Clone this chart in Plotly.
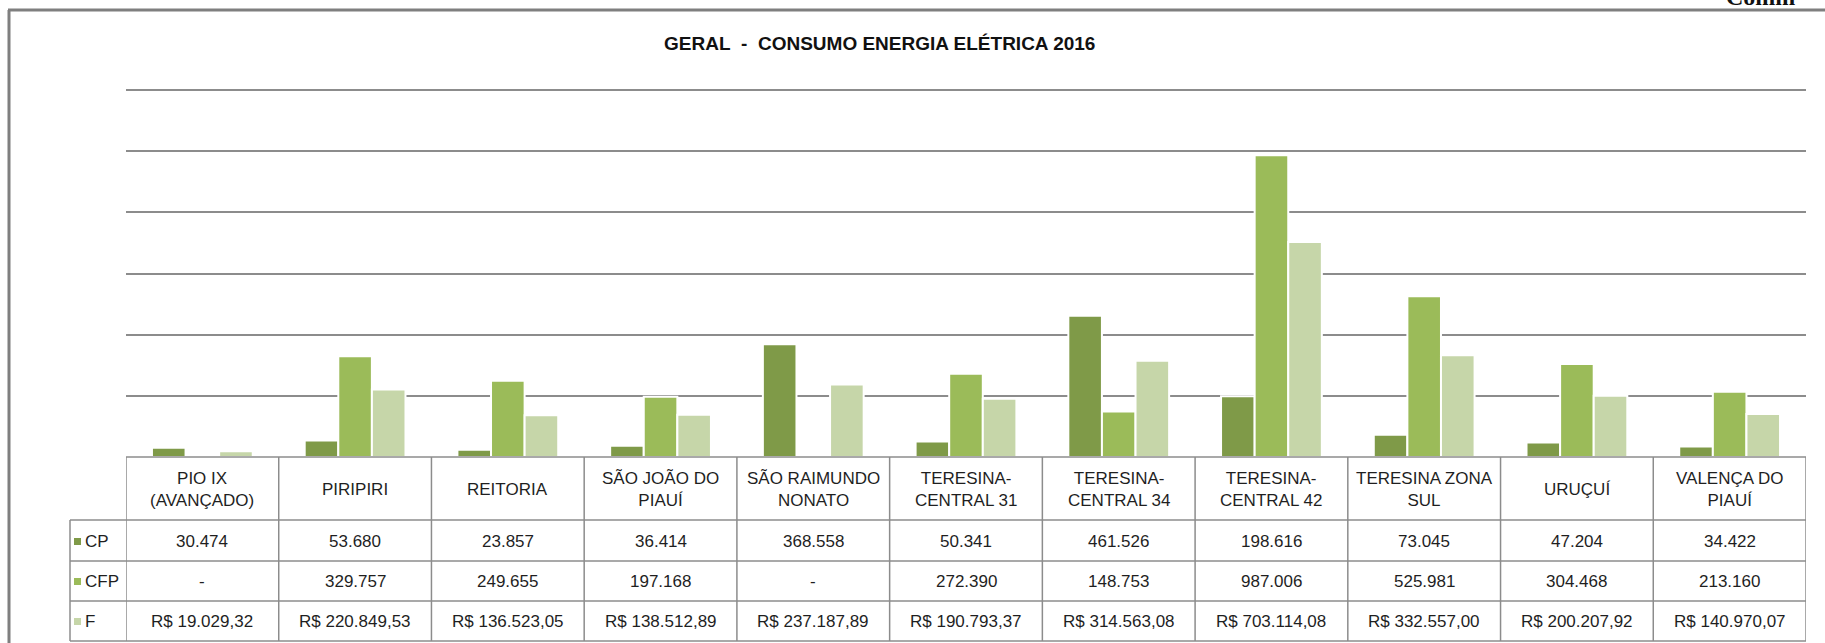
import plotly.graph_objects as go

# ---------------- data ----------------
categories = ["PIO IX (AVANÇADO)", "PIRIPIRI", "REITORIA", "SÃO JOÃO DO PIAUÍ",
              "SÃO RAIMUNDO NONATO", "TERESINA-CENTRAL 31", "TERESINA-CENTRAL 34",
              "TERESINA-CENTRAL 42", "TERESINA ZONA SUL", "URUÇUÍ", "VALENÇA DO PIAUÍ"]
header_labels = ["PIO IX<br>(AVANÇADO)", "PIRIPIRI", "REITORIA", "SÃO JOÃO DO<br>PIAUÍ",
                 "SÃO RAIMUNDO<br>NONATO", "TERESINA-<br>CENTRAL 31", "TERESINA-<br>CENTRAL 34",
                 "TERESINA-<br>CENTRAL 42", "TERESINA ZONA<br>SUL", "URUÇUÍ", "VALENÇA DO<br>PIAUÍ"]
cp = [30474, 53680, 23857, 36414, 368558, 50341, 461526, 198616, 73045, 47204, 34422]
cfp = [None, 329757, 249655, 197168, None, 272390, 148753, 987006, 525981, 304468, 213160]
f = [19029.32, 220849.53, 136523.05, 138512.89, 237187.89, 190793.37, 314563.08,
     703114.08, 332557.00, 200207.92, 140970.07]
series_names = ["CP", "CFP", "F"]
title_text = "GERAL\u00a0\u00a0-\u00a0\u00a0CONSUMO ENERGIA ELÉTRICA 2016"
corner_text = "Comm"
y_top = 1200000
y_step = 200000

colors = ["#7F9A48", "#9BBB59", "#C6D6A9"]

# ---------------- geometry (pixels) ----------------
W, H = 1825, 643
L, R = 126, 1806          # plot area left/right
T, B = 86, 457            # plot area top/bottom
PW, PH = R - L, B - T
GRID_TOP_PX = 90
YMAX = y_top * PH / (B - GRID_TOP_PX)

def px(x):
    return (x - L) / PW

def py(y):
    return (B - y) / PH

FONT = "Liberation Sans, Arial, sans-serif"
TXT = "#1f1f1f"


def fmt_int(v):
    if v is None:
        return "-"
    return f"{int(round(v)):,}".replace(",", ".")


def fmt_money(v):
    s = f"{v:,.2f}"
    s = s.replace(",", "X").replace(".", ",").replace("X", ".")
    return "R$ " + s


fig = go.Figure()
for name, vals, col in zip(series_names, [cp, cfp, f], colors):
    fig.add_trace(go.Bar(
        x=categories, y=vals, name=name,
        marker=dict(color=col, line=dict(color="white", width=2)),
    ))

shapes = []
annotations = []
grid_col = "#8c8c8c"
line_col = "#8c8c8c"

# table geometry
row_lines = [520, 561, 601, 641]
n = len(categories)

shapes.append(dict(type="line", xref="paper", yref="paper", x0=px(L), x1=px(R),
                   y0=py(B), y1=py(B), line=dict(color=line_col, width=1.5)))
for yl in row_lines:
    shapes.append(dict(type="line", xref="paper", yref="paper", x0=px(70), x1=px(R),
                       y0=py(yl), y1=py(yl), line=dict(color=line_col, width=1.5)))
for i in range(n + 1):
    shapes.append(dict(type="line", xref="x", yref="paper", x0=i - 0.5, x1=i - 0.5,
                       y0=py(B), y1=py(641), line=dict(color=line_col, width=1.5)))
shapes.append(dict(type="line", xref="paper", yref="paper", x0=px(70), x1=px(70),
                   y0=py(520), y1=py(641), line=dict(color=line_col, width=1.5)))

# header text
for cat, lab in zip(categories, header_labels):
    annotations.append(dict(x=cat, xref="x", y=py(489), yref="paper", text=lab,
                            showarrow=False, xanchor="center", yanchor="middle",
                            font=dict(family=FONT, size=17, color=TXT)))

row_vals = [[fmt_int(v) for v in cp], [fmt_int(v) for v in cfp], [fmt_money(v) for v in f]]
row_centers = [541, 581, 621]
for sname, col, vals, yc in zip(series_names, colors, row_vals, row_centers):
    for cat, txt in zip(categories, vals):
        annotations.append(dict(x=cat, xref="x", y=py(yc), yref="paper", text=txt,
                                showarrow=False, xanchor="center", yanchor="middle",
                                font=dict(family=FONT, size=17, color=TXT)))
    shapes.append(dict(type="rect", xref="paper", yref="paper", x0=px(74), x1=px(81),
                       y0=py(yc + 4), y1=py(yc - 3), fillcolor=col, line=dict(width=0)))
    annotations.append(dict(x=px(83), xref="paper", y=py(yc), yref="paper", text=sname,
                            showarrow=False, xanchor="left", yanchor="middle",
                            font=dict(family=FONT, size=17, color=TXT)))

# outer frame (left and top edges)
shapes.append(dict(type="line", xref="paper", yref="paper", x0=px(9), x1=px(9),
                   y0=py(10), y1=py(H + 5), line=dict(color="#7f7f7f", width=3)))
shapes.append(dict(type="line", xref="paper", yref="paper", x0=px(8), x1=px(W + 5),
                   y0=py(10), y1=py(10), line=dict(color="#7f7f7f", width=3)))

# title
annotations.append(dict(x=px(879), xref="paper", y=py(43), yref="paper",
                        text="<b>" + title_text + "</b>",
                        showarrow=False, xanchor="center", yanchor="middle",
                        font=dict(family=FONT, size=19, color="#111111")))
# cropped text at top right
annotations.append(dict(x=px(1724), xref="paper", y=py(12), yref="paper",
                        text="<b>" + corner_text + "</b>",
                        showarrow=False, xanchor="left", yanchor="bottom",
                        font=dict(family="Liberation Serif, serif", size=24, color="#111111")))

fig.update_layout(
    width=W, height=H,
    margin=dict(l=L, r=W - R, t=T, b=H - B, pad=0),
    paper_bgcolor="white", plot_bgcolor="white",
    barmode="group", bargap=0.34, bargroupgap=0.0,
    showlegend=False,
    shapes=shapes, annotations=annotations,
    xaxis=dict(showticklabels=False, showgrid=False, zeroline=False, showline=False,
               ticks="", range=[-0.5, n - 0.5], fixedrange=True),
    yaxis=dict(range=[0, YMAX], tickmode="linear", tick0=0, dtick=y_step,
               showticklabels=False, showgrid=True,
               gridcolor=grid_col, gridwidth=2, zeroline=False, showline=False, ticks=""),
)

fig.write_html("out.html", config={"displayModeBar": False},
               post_script="document.body.style.margin='0';document.body.style.overflow='hidden';")
